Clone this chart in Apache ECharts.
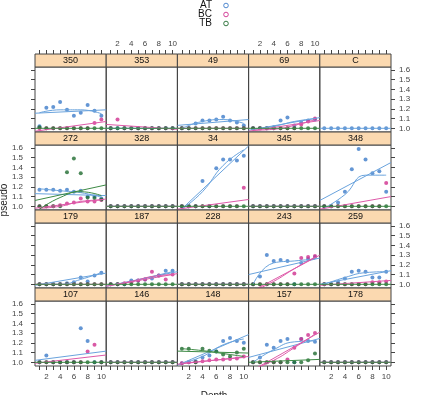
<!DOCTYPE html>
<html><head><meta charset="utf-8">
<script src="https://cdn.jsdelivr.net/npm/echarts@6/dist/echarts.min.js"></script>
<style>html,body{margin:0;padding:0;background:#fff}#c{width:429px;height:395px}</style>
</head><body><div id="c"></div>
<script>
// ---------------- data ----------------
const panels = ["350","353","49","69","C","272","328","34","345","348","179","187","228","243","259","107","146","148","157","178"];
const depth = [1,2,3,4,5,6,7,8,9,10];
const groups = ["AT","BC","TB"];

const atValues = [
  [1.02,1.21,1.22,1.27,1.19,1.13,1.16,1.24,1.18,1.13],
  [1,1,1,1,1,1,1,1,1,1],
  [1,1,1.05,1.08,1.08,1.09,1.12,1.08,1.06,1.03],
  [1,1,1,1.01,1.08,1.11,1.03,1.06,1.08,1.09],
  [1,1,1,1,1,1,1,1,1,1],
  [1.17,1.17,1.17,1.16,1.17,1.15,1.16,1.10,1.10,1.08],
  [1,1,1,1,1,1,1,1,1,1],
  [1,1,1,1.26,1,1.39,1.48,1.48,1.47,1.52],
  [1,1,1,1,1,1,1,1,1,1],
  [1,1,1.04,1.15,1.38,1.59,1.48,1.34,1.36,1.15],
  [1,1,1,1,1.01,1.02,1.07,1.03,1.09,1.12],
  [1,1,1,1.04,1.04,1.05,1.06,1.09,1.14,1.14],
  [1,1,1,1,1,1,1,1,1,1],
  [1,1.08,1.30,1.24,1.25,1.24,1,1.22,1.26,1.28],
  [1,1,1.02,1.06,1.13,1.14,1.13,1.07,1.07,1.13],
  [1,1.07,1,1,1,1,1.35,1.22,1,1],
  [1,1,1,1,1,1,1,1,1,1],
  [0.99,1,1.01,1.05,1.07,1.11,1.22,1.25,1.22,1.20],
  [1,1.05,1.18,1.15,1.22,1.24,1,1.24,1.22,1.21],
  [1,1,1,1,1,1,1,1,1,1]
];
const bcValues = [
  [1,1,1,1,1,1,1,1,1.055,1.09],
  [1,1.09,1,1,1,1,1,1,1,1],
  [1,1,1,1,1,1,1,1,1,1],
  [1,1,1,1,1,1,1,1.04,1.07,1.10],
  null,
  [1,1,1,1.01,1.03,1.04,1.08,1.05,1.05,1.065],
  [1,1,1,1,1,1,1,1,1,1],
  [1,1,1,1,1,1,1,1,1,1.19],
  [1,1,1,1,1,1,1,1,1,1],
  [1,1,1,1,1,1,1,1,1,1.24],
  [1,1,1,1,1,1,1,1,1,1],
  [1,1,1.01,1.02,1.04,1.05,1.13,1.09,1.05,1.10],
  [1,1,1,1,1,1,1,1,1,1],
  [1,1,1,1,1,1,1.11,1.27,1.28,1.29],
  [1,1,1,1,1,1,1,1.02,1.02,1.03],
  [1,1,1,1,1,1,1,1.11,1.18,1],
  [1,1,1,1,1,1,1,1,1,1],
  [0.99,1,1,1.01,1.02,1.03,1.03,1.035,1.04,1.06],
  [1,1,1,1,1,1.03,1.15,1.24,1.28,1.30],
  [1,1,1,1,1,1,1,1,1,1]
];
const tbValues = [
  [1.01,1,1,1,1,1,1,1,1,1],
  [1,1,1,1,1,1,1,1,1,1],
  [1,1,1,1,1,1,1,1,1,1],
  [1,1,1,1,1,1,1,1,1,1],
  null,
  [1,1,1,1,1.35,1.49,1.34,1.09,1.085,1.07],
  [1,1,1,1,1,1,1,1,1,1],
  [1,1,1,1,1,1,1,1,1,1],
  [1,1,1,1,1,1,1,1,1,1],
  [1,1,1,1,1,1,1,1,1,1],
  [1,1,1,1,1,1,1,1,1,1],
  [1,1,1,1,1,1,1,1,1,1],
  [1,1,1,1,1,1,1,1,1,1],
  [1,1,1,1,1,1,1,1,1,1],
  [1,1,1,1,1,1,1,1,1,1],
  [1,1,1,1,1,1,1,1,1,1],
  [1,1,1,1,1,1,1,1,1,1],
  [1.14,1.14,1.0,1.14,1.12,1.11,1.08,1.06,1.10,1.14],
  [1,1,1,1,1,1,1,1,1.02,1.09],
  [1,1,1,1,1,1,1,1,1,1]
];

// straight fitted lines: value at the left and right panel limits
const atFit = [[1.155,1.19],[1,1],[1.03,1.09],[0.98,1.11],[1,1],[1.13,1.11],[1,1],[0.93,1.62],[1,1],[1.06,1.45],
               [0.99,1.115],[0.98,1.13],[1,1],[1.10,1.27],[1.0,1.14],[1.02,1.115],[1,1],[0.97,1.285],[1.05,1.245],[1,1]];
const bcFit = [[0.97,1.07],[1.04,0.99],[1,1],[0.97,1.08],null,[0.98,1.075],[1,1],[0.97,1.07],[1,1],[0.97,1.10],
               [1,1],[0.98,1.11],[1,1],[0.91,1.30],[0.99,1.04],[0.99,1.075],[1,1],[0.98,1.06],[0.895,1.31],[1,1]];
const tbFit = [[1,1],[1,1],[1,1],[1,1],null,[1.06,1.22],[1,1],[1,1],[1,1],[1,1],
               [1,1],[1,1],[1,1],[1,1],[1,1],[1,1],[1,1],[1.115,1.095],[1.0,1.03],[1,1]];

// smooth curves: values at the knots
const smoothKnots = [1,4,7,10];
const atSmooth = [[1.16,1.19,1.19,1.15],null,[1.0,1.07,1.09,1.05],[0.99,1.02,1.07,1.10],null,
                  [1.18,1.16,1.14,1.095],null,[0.97,1.15,1.42,1.58],null,[0.98,1.12,1.32,1.32],
                  [1.0,1.0,1.05,1.12],[0.99,1.03,1.08,1.13],null,[1.0,1.22,1.24,1.26],[1.0,1.07,1.12,1.13],
                  null,null,[0.99,1.06,1.18,1.24],[1.0,1.13,1.21,1.22],null];
const bcSmooth = [null,null,null,[0.98,0.99,1.03,1.09],null,
                  [0.98,1.0,1.05,1.065],null,null,null,null,
                  null,[0.99,1.03,1.08,1.10],null,[0.93,1.03,1.16,1.28],null,
                  null,null,[0.99,1.01,1.03,1.05],[0.93,1.02,1.15,1.29],null];
const tbSmooth = [null,null,null,null,null,
                  [0.97,1.09,1.15,1.11],null,null,null,null,
                  null,null,null,null,null,
                  null,null,[1.14,1.12,1.09,1.06],null,null];

const yTicks = [1.0,1.1,1.2,1.3,1.4,1.5,1.6];
const xTicks = [1,2,3,4,5,6,7,8,9,10];
const xTickLabels = [2,4,6,8,10];

// ---------------- layout / style ----------------
const XMIN = 0.35, XMAX = 10.7, YMIN = 0.962, YMAX = 1.63;
const L = 35, W = 71.2, T0 = 54, ROWH = 78, STRIP = 13, PH = 65;
const pointCol = ['#3d7cc9','#cf2f8f','#1f6b2f'];
const lineCol = ['#6aa3dd','#de5aa9','#3d8a45'];
const frame = '#444';
const tickFont = {fontFamily:'Liberation Sans, Arial, sans-serif', fontSize:8, color:'#444'};

const valueSets = [atValues, bcValues, tbValues];
const fitSets = [atFit, bcFit, tbFit];
const smoothSets = [atSmooth, bcSmooth, tbSmooth];

const grid = [], xAxis = [], yAxis = [], series = [], graphic = [];

panels.forEach((name, i) => {
  const r = Math.floor(i/5), c = i % 5;
  const gx = L + c*W, gy = T0 + r*ROWH + STRIP;
  grid.push({left: gx, top: gy, width: W, height: PH, show: true,
             borderColor: frame, borderWidth: 1, backgroundColor: 'transparent'});
  xAxis.push({
    type: 'value', gridIndex: i, min: XMIN, max: XMAX, position: 'bottom',
    show: r === 3,
    axisLine: {show: false}, splitLine: {show: false},
    axisTick: {show: true, inside: false, length: 4, customValues: xTicks, lineStyle: {color: frame}},
    axisLabel: {show: (c % 2 === 0), margin: 7, customValues: xTickLabels, ...tickFont}
  });
  if (r === 0) {
    xAxis.push({
      type: 'value', gridIndex: i, min: XMIN, max: XMAX, position: 'top', offset: STRIP,
      axisLine: {show: false}, splitLine: {show: false},
      axisTick: {show: true, inside: false, length: 4, customValues: xTicks, lineStyle: {color: frame}},
      axisLabel: {show: (c % 2 === 1), margin: 6, customValues: xTickLabels, ...tickFont}
    });
  }
  const yShow = (c === 0 || c === 4);
  const yLab = (c === 0) ? (r % 2 === 1) : (r % 2 === 0);
  yAxis.push({
    type: 'value', gridIndex: i, min: YMIN, max: YMAX, position: c === 4 ? 'right' : 'left',
    show: yShow,
    axisLine: {show: false}, splitLine: {show: false},
    axisTick: {show: true, inside: false, length: 4, customValues: yTicks, lineStyle: {color: frame}},
    axisLabel: {show: yLab, margin: c === 4 ? 8 : 12, customValues: yTicks,
                formatter: v => v.toFixed(1), ...tickFont}
  });
  const xIdx = xAxis.length - (r === 0 ? 2 : 1);

  graphic.push({type: 'rect', silent: true, z: 10,
    shape: {x: gx, y: gy - STRIP, width: W, height: STRIP},
    style: {fill: '#fbd9b0', stroke: frame, lineWidth: 1}});
  graphic.push({type: 'text', silent: true, z: 11, x: gx + W/2, y: gy - STRIP/2 + 0.5,
    style: {text: name, align: 'center', verticalAlign: 'middle',
            font: '9px Liberation Sans, Arial, sans-serif', fill: '#111'}});

  groups.forEach((g, k) => {
    const vals = valueSets[k][i];
    if (vals) {
      series.push({type: 'scatter', name: g, xAxisIndex: xIdx, yAxisIndex: i,
        symbol: 'circle', symbolSize: 4, silent: true,
        itemStyle: {color: pointCol[k]},
        data: depth.map((d, j) => [d, vals[j]]).filter(p => p[1] != null)});
    }
    const fit = fitSets[k][i];
    if (fit) {
      series.push({type: 'line', name: g, xAxisIndex: xIdx, yAxisIndex: i,
        showSymbol: false, silent: true, clip: true,
        lineStyle: {color: lineCol[k], width: 1},
        data: [[XMIN, fit[0]], [XMAX, fit[1]]]});
    }
    const sm = smoothSets[k][i];
    if (sm) {
      series.push({type: 'line', name: g, xAxisIndex: xIdx, yAxisIndex: i,
        showSymbol: false, silent: true, clip: true, smooth: 0.5,
        lineStyle: {color: lineCol[k], width: 1},
        data: smoothKnots.map((d, j) => [d, sm[j]])});
    }
  });
});

groups.forEach((g, k) => {
  graphic.push({type: 'text', silent: true, x: 212, y: 5.5 + k*9,
    style: {text: g, align: 'right', verticalAlign: 'middle',
            font: '10px Liberation Sans, Arial, sans-serif', fill: '#111'}});
  graphic.push({type: 'circle', silent: true, shape: {cx: 226, cy: 5.5 + k*9, r: 2.3},
    style: {fill: 'none', stroke: pointCol[k], lineWidth: 0.9}});
});
graphic.push({type: 'text', silent: true, x: 4, y: 200, rotation: Math.PI/2,
  style: {text: 'pseudo', align: 'center', verticalAlign: 'middle',
          font: '10px Liberation Sans, Arial, sans-serif', fill: '#222'}});
graphic.push({type: 'text', silent: true, x: 214, y: 391,
  style: {text: 'Depth', align: 'center', verticalAlign: 'top',
          font: '10px Liberation Sans, Arial, sans-serif', fill: '#222'}});

const chart = echarts.init(document.getElementById('c'), null, {renderer: 'canvas'});
chart.setOption({animation: false, backgroundColor: '#fff', grid, xAxis, yAxis, series, graphic});
</script></body></html>
